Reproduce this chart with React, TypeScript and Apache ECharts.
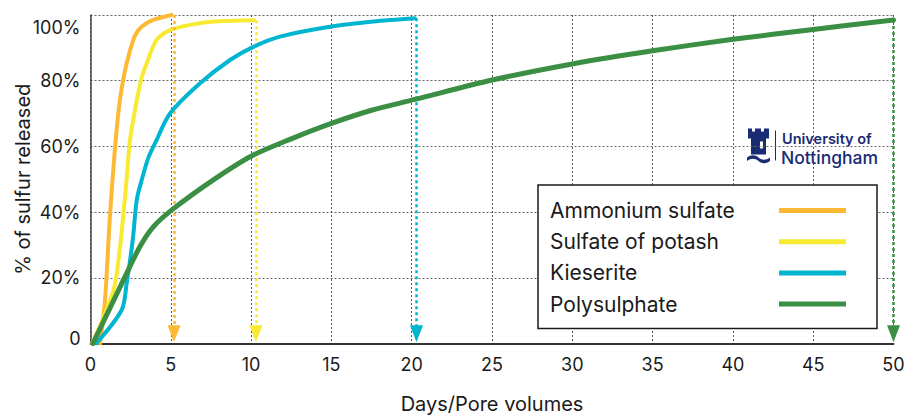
import React, { useEffect, useRef } from "react";
import * as echarts from "echarts";

// ---- data ----
const seriesNames = ["Ammonium sulfate", "Sulfate of potash", "Kieserite", "Polysulphate"];
const seriesColors = ["#FDB933", "#F8E931", "#00B5CF", "#3B8F45"];

const ammoniumX = [0.6, 0.9, 1.2, 1.5, 1.8, 2.1, 2.45, 2.8, 3.2, 3.9, 5.05];
const ammoniumY = [0, 13, 38, 58, 73, 82, 89, 94, 96.5, 98.5, 100];

const potashX = [0.1, 1.42, 1.84, 2.25, 2.46, 2.88, 3.19, 3.5, 4.12, 4.95, 6.2, 7.65, 10.2];
const potashY = [0, 16, 29.5, 50, 62, 74, 81, 85.3, 92.4, 95.4, 97, 98, 98.4];

const kieseriteX = [0.35, 1.94, 2.25, 2.63, 2.88, 3.19, 3.6, 4.12, 4.95, 6.82, 8.69, 10.14, 11.8, 14.9, 17.6, 20.2];
const kieseriteY = [0, 10.2, 18.3, 31.5, 43.7, 49.8, 56.5, 62, 70, 79.2, 86.3, 90.3, 93.4, 96.4, 98, 99];

const polyX = [0.15, 2.1, 3.08, 3.91, 5.05, 7.65, 10, 12.5, 15, 17.5, 20.2, 25, 30, 35, 40, 45, 50];
const polyY = [0, 19.8, 29.5, 35.5, 40.6, 49.8, 57, 62.3, 67, 71, 74.3, 80.2, 85.1, 89.1, 92.6, 95.6, 98.5];

// end-of-release arrows (x position, top value)
const arrowX = [5.2, 10.3, 20.3, 50];
const arrowTop = [100, 98.4, 99, 98.5];
const arrowBottom = 3;

const xMin = 0, xMax = 50, xStep = 5;
const yMin = 0, yMax = 100, yStep = 20;

const xTitle = "Days/Pore volumes";
const yTitle = "% of sulfur released";

const CASTLE_D =
  "M1 0 H5 V3 H8 V0 H14 V3 H17 V0 H22 V10 H19 V26 H4 V10 H1 Z " +
  "M0 29 C4 26 8 26 11.5 29 C15 32 19 32 23 29 V32.5 C19 35.5 15 35.5 11.5 32.5 C8 29.5 4 29.5 0 32.5 Z";

let registered = false;
function ensureShape() {
  if (registered) return;
  echarts.graphic.registerShape("uoncastle", echarts.graphic.extendPath(CASTLE_D, {}) as any);
  registered = true;
}

function zip(xs: number[], ys: number[]) {
  return xs.map((x, i) => [x, ys[i]]);
}

export default function App() {
  const ref = useRef<HTMLDivElement>(null);
  useEffect(() => {
    if (!ref.current) return;
    ensureShape();
    const chart = echarts.init(ref.current, undefined, { renderer: "svg" });
    const datasets = [zip(ammoniumX, ammoniumY), zip(potashX, potashY), zip(kieseriteX, kieseriteY), zip(polyX, polyY)];
    const widths = [4, 4, 4, 5];
    const textColor = "#1a1a1a";
    const navy = "#182b73";

    const option: any = {
      animation: false,
      textStyle: { fontFamily: "Inter" },
      grid: { left: 90.5, right: 13.5, top: 15, bottom: 71.5, containLabel: false, outerBoundsMode: "none" },
      xAxis: {
        type: "value",
        min: xMin,
        max: xMax,
        interval: xStep,
        name: xTitle,
        nameLocation: "middle",
        nameGap: 50,
        nameMoveOverlap: false,
        nameTextStyle: { fontSize: 20, color: textColor, fontFamily: "Inter" },
        axisLine: { show: true, lineStyle: { color: "#333", width: 2 } },
        axisTick: { show: false },
        axisLabel: { fontSize: 18, color: textColor, margin: 12, fontFamily: "Inter" },
        splitLine: { show: true, lineStyle: { color: "#555", type: [2, 2], width: 1 } },
      },
      yAxis: {
        type: "value",
        min: yMin,
        max: yMax,
        interval: yStep,
        name: yTitle,
        nameLocation: "middle",
        nameGap: 58,
        nameMoveOverlap: false,
        nameTextStyle: { fontSize: 20, color: textColor, fontFamily: "Inter" },
        axisLine: { show: true, lineStyle: { color: "#444", width: 1.5 } },
        axisTick: { show: false },
        axisLabel: {
          fontSize: 18,
          color: textColor,
          margin: 10,
          fontFamily: "Inter",
          formatter: (v: number) => (v === 0 ? "{b|0}" : v === 100 ? "{t|100%}" : v + "%"),
          rich: {
            t: { fontSize: 18, color: textColor, fontFamily: "Inter", padding: [24, 0, 0, 0] },
            b: { fontSize: 18, color: textColor, fontFamily: "Inter", padding: [0, 0, 11, 0] },
          },
        },
        splitLine: { show: true, lineStyle: { color: "#666", type: [2, 2], width: 1 } },
      },
      legend: {
        show: true,
        data: seriesNames,
        orient: "vertical",
        left: 538,
        top: 185,
        align: "right",
        icon: "rect",
        itemWidth: 67,
        itemHeight: 5,
        itemGap: 10.2,
        padding: [15, 31, 14, 12],
        borderColor: "#1a1a1a",
        borderWidth: 1.5,
        backgroundColor: "#ffffff",
        selectedMode: false,
        formatter: (name: string) => "{n|" + name + "}",
        textStyle: {
          color: textColor,
          fontSize: 21,
          fontFamily: "Inter",
          rich: {
            n: { width: 224, align: "left", fontSize: 21, lineHeight: 20, color: textColor, fontFamily: "Inter" },
          },
        },
        z: 10,
      },
      series: seriesNames.map((name, i) => ({
        name,
        type: "line",
        data: datasets[i],
        showSymbol: false,
        symbol: "none",
        smooth: 0.3,
        color: seriesColors[i],
        lineStyle: { color: seriesColors[i], width: widths[i], cap: "round", join: "round" },
        z: 3 + i,
        markLine: {
          silent: true,
          symbol: ["none", "triangle"],
          symbolSize: [13, 17],
          label: { show: false },
          lineStyle: { color: seriesColors[i], type: [3, 3], width: 2.5 },
          itemStyle: { color: seriesColors[i] },
          data: [[{ coord: [arrowX[i], arrowTop[i]] }, { coord: [arrowX[i], arrowBottom] }]],
        },
      })),
      graphic: [
        {
          type: "group",
          left: 747,
          top: 128,
          z: 20,
          children: [
            { type: "uoncastle", x: 0, y: 0, scaleX: 1, scaleY: 1, style: { fill: navy } },
            { type: "rect", shape: { x: 13, y: 13, width: 3, height: 7 }, style: { fill: "#fff" } },
            { type: "line", shape: { x1: 28.5, y1: 2, x2: 28.5, y2: 32 }, style: { stroke: navy, lineWidth: 1 } },
            {
              type: "text",
              x: 35,
              y: 10,
              style: { text: "University of", fill: navy, font: "600 14.5px Inter", verticalAlign: "middle" },
            },
            {
              type: "text",
              x: 34,
              y: 29,
              style: { text: "Nottingham", fill: navy, font: "500 17.5px Inter", verticalAlign: "middle" },
            },
          ],
        },
      ],
    };
    chart.setOption(option);
    return () => chart.dispose();
  }, []);
  return (
    <div
      ref={ref}
      style={{ position: "fixed", left: 0, top: 0, width: 907, height: 415, background: "#fff" }}
    />
  );
}
